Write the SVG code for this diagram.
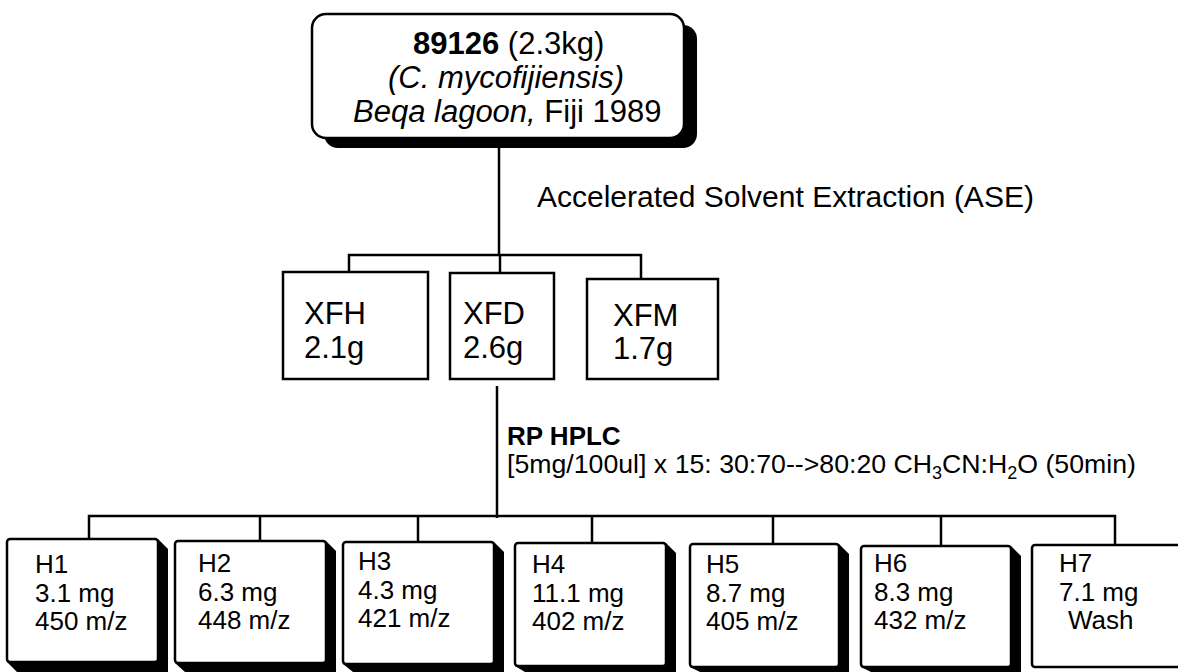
<svg xmlns="http://www.w3.org/2000/svg" width="1178" height="672" viewBox="0 0 1178 672">
<style>
text{font-family:"Liberation Sans",Arial,sans-serif;fill:#000}
.t26{font-size:26px}
.t31{font-size:31px}
.t30{font-size:30px}
.tsub{font-size:26.7px}
.box{fill:#fff;stroke:#000;stroke-width:2.5}
.sh{fill:#000}
.ln{stroke:#000;stroke-width:2.5;fill:none}
</style>
<rect width="1178" height="672" fill="#fff"/>
<g id="connectors">
<line class="ln" x1="499" y1="148" x2="499" y2="255"/>
<polyline class="ln" points="349,272 349,255 641,255 641,279"/>
<line class="ln" x1="500" y1="255" x2="500" y2="273"/>
<line class="ln" x1="497" y1="386" x2="497" y2="518"/>
<polyline class="ln" points="89,539 89,516 1115,516 1115,545"/>
<line class="ln" x1="260" y1="516" x2="260" y2="541"/>
<line class="ln" x1="418" y1="516" x2="418" y2="543"/>
<line class="ln" x1="592" y1="516" x2="592" y2="543"/>
<line class="ln" x1="773" y1="516" x2="773" y2="544"/>
<line class="ln" x1="941" y1="516" x2="941" y2="546"/>
</g>
<g id="n89126">
<rect class="sh" x="324" y="25" width="373" height="123" rx="14"/>
<rect class="box" x="312" y="14" width="372" height="124" rx="14"/>
<text class="t31" x="413" y="54"><tspan font-weight="bold">89126</tspan> (2.3kg)</text>
<text class="t31" x="388" y="88" font-style="italic">(C. mycofijiensis)</text>
<text class="t31" x="353" y="122"><tspan font-style="italic">Beqa lagoon,</tspan> Fiji 1989</text>
</g>
<text class="t30" x="537" y="207">Accelerated Solvent Extraction (ASE)</text>
<g id="XFH">
<rect class="box" x="283" y="272" width="145" height="107"/>
<text class="t31" x="304" y="324">XFH</text>
<text class="t31" x="304" y="358">2.1g</text>
</g>
<g id="XFD">
<rect class="box" x="450" y="273" width="104" height="106"/>
<text class="t31" x="463" y="324">XFD</text>
<text class="t31" x="463" y="358">2.6g</text>
</g>
<g id="XFM">
<rect class="box" x="587" y="279" width="131" height="100"/>
<text class="t31" x="613" y="326">XFM</text>
<text class="t31" x="613" y="359">1.7g</text>
</g>
<g id="hplc-label">
<text class="t26" x="507" y="445" font-weight="bold">RP HPLC</text>
<text class="tsub" x="507" y="473">[5mg/100ul] x 15: 30:70--&gt;80:20 CH<tspan font-size="18" dy="6">3</tspan><tspan dy="-6">CN:H</tspan><tspan font-size="18" dy="6">2</tspan><tspan dy="-6">O (50min)</tspan></text>
</g>
<g id="H1">
<polygon class="sh" points="158,539 168,549 168,672 17,672 7,662"/>
<rect class="box" x="7" y="539" width="151" height="123" rx="3"/>
<text class="t26" x="35" y="573">H1</text><text class="t26" x="35" y="602">3.1 mg</text><text class="t26" x="35" y="630">450 m/z</text>
</g>
<g id="H2">
<polygon class="sh" points="326,541 336,551 336,672 185,672 175,663"/>
<rect class="box" x="175" y="541" width="151" height="122" rx="3"/>
<text class="t26" x="198" y="572">H2</text><text class="t26" x="198" y="601">6.3 mg</text><text class="t26" x="198" y="629">448 m/z</text>
</g>
<g id="H3">
<polygon class="sh" points="494,542 504,552 504,672 353,672 343,664"/>
<rect class="box" x="343" y="542" width="151" height="122" rx="3"/>
<text class="t26" x="358" y="570">H3</text><text class="t26" x="358" y="599">4.3 mg</text><text class="t26" x="358" y="627">421 m/z</text>
</g>
<g id="H4">
<polygon class="sh" points="666,543 676,553 676,672 525,672 515,666"/>
<rect class="box" x="515" y="543" width="151" height="123" rx="3"/>
<text class="t26" x="532" y="573">H4</text><text class="t26" x="532" y="602">11.1 mg</text><text class="t26" x="532" y="630">402 m/z</text>
</g>
<g id="H5">
<polygon class="sh" points="839,544 849,554 849,672 700,672 690,667"/>
<rect class="box" x="690" y="544" width="149" height="123" rx="3"/>
<text class="t26" x="706" y="573">H5</text><text class="t26" x="706" y="602">8.7 mg</text><text class="t26" x="706" y="630">405 m/z</text>
</g>
<g id="H6">
<polygon class="sh" points="1011,546 1021,556 1021,672 871,672 861,667"/>
<rect class="box" x="861" y="546" width="150" height="121" rx="3"/>
<text class="t26" x="874" y="572">H6</text><text class="t26" x="874" y="601">8.3 mg</text><text class="t26" x="874" y="629">432 m/z</text>
</g>
<g id="H7">
<rect class="box" x="1032" y="545" width="160" height="122" rx="3"/>
<text class="t26" x="1059" y="572">H7</text><text class="t26" x="1059" y="601">7.1 mg</text><text class="t26" x="1068" y="629">Wash</text>
</g>
</svg>
